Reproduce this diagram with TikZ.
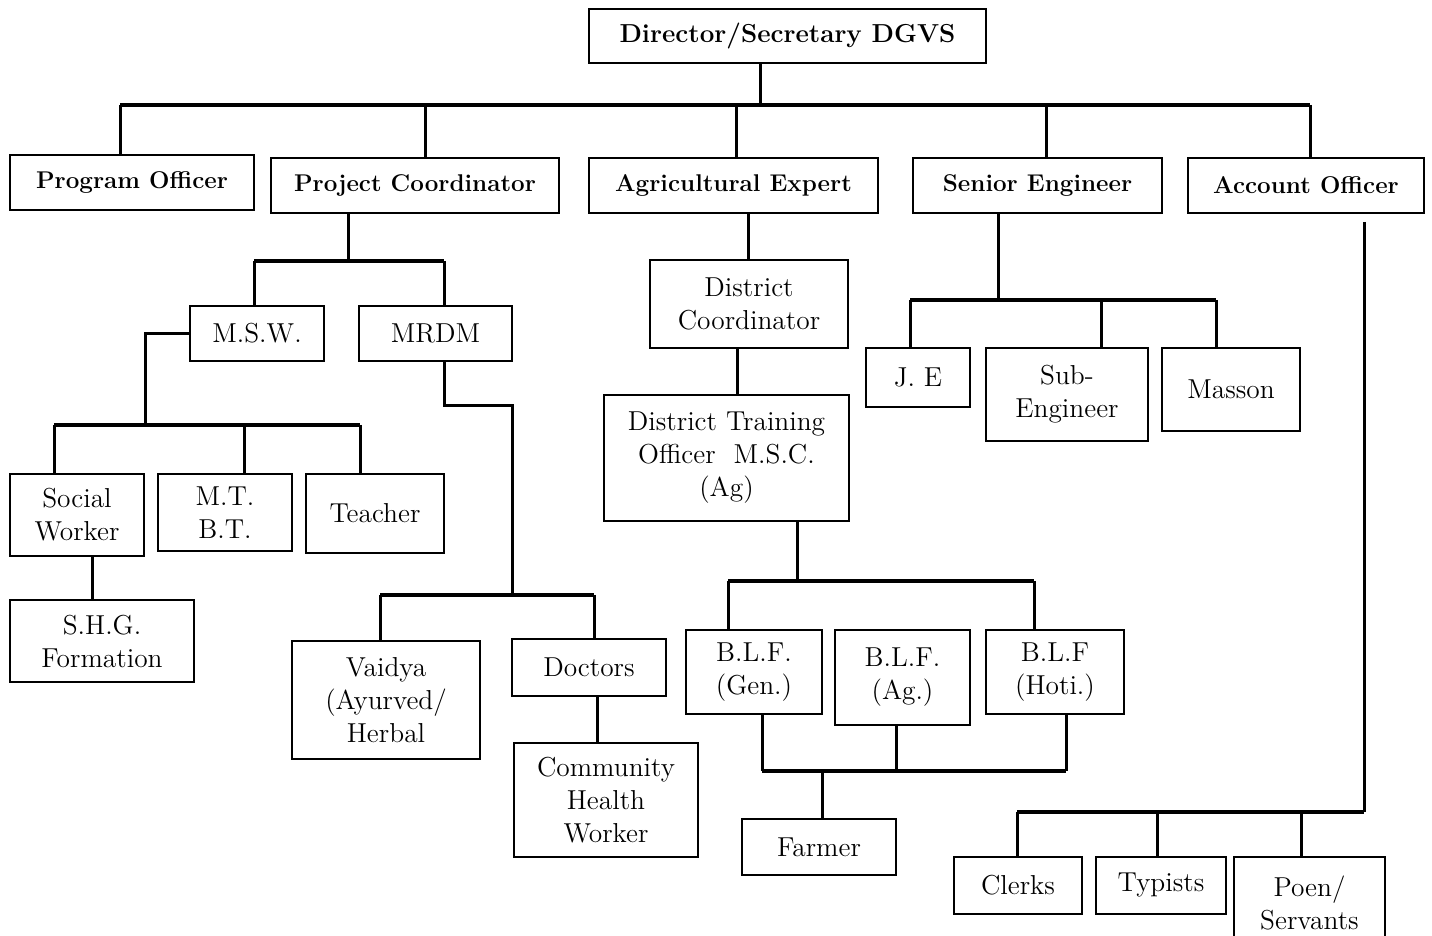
\documentclass[tikz,border=0pt]{standalone}
\usepackage{fontspec}
\setmainfont{Latin Modern Roman}
\newcommand\BOX[7][bx]{\node[#1, minimum width={(#5-#3)*0.5pt}, minimum height={(#6-#4)*0.5pt}] (#2) at ({(#3+#5)/2},{(#4+#6)/2}) {#7};}
\begin{document}
\begin{tikzpicture}[x=0.5pt,y=-0.5pt,
  bx/.style={draw, line width=1pt, align=center, inner sep=0pt, font=\fontsize{13.7}{16.5}\selectfont},
  bbx/.style={bx, font=\fontsize{12.1}{15}\selectfont\bfseries},
  tbx/.style={bx, font=\fontsize{13}{15}\selectfont\bfseries},
  conn/.style={line width=1.5pt},
  bus/.style={line width=2pt, line cap=square}]
\clip (0,0) rectangle (1432,936);
\fill[white] (0,0) rectangle (1432,936);

% boxes
\BOX[tbx]{dir}{589}{9}{986}{63}{Director/Secretary DGVS}
\BOX[bbx]{po}{10}{155}{254}{210}{Program Officer}
\BOX[bbx]{pc}{271}{158}{559}{213}{Project Coordinator}
\BOX[bbx]{ae}{589}{158}{878}{213}{Agricultural Expert}
\BOX[bbx]{se}{913}{158}{1162}{213}{Senior Engineer}
\BOX[bbx]{ao}{1188}{158}{1424}{213}{Account Officer}

\BOX{msw}{190}{306}{324}{361}{M.S.W.}
\BOX{mrdm}{359}{306}{512}{361}{MRDM}
\BOX{dc}{650}{260}{848}{348}{District\\Coordinator}
\BOX{je}{866}{348}{970}{407}{J. E}
\BOX{sub}{986}{348}{1148}{441}{Sub-\\Engineer}
\BOX{mas}{1162}{348}{1300}{431}{Masson}
\BOX{sw}{10}{474}{144}{556}{Social\\Worker}
\BOX{mt}{158}{474}{292}{551}{M.T.\\B.T.}
\BOX{tea}{306}{474}{444}{553}{Teacher}
\BOX{shg}{10}{600}{194}{682}{S.H.G.\\Formation}
\BOX{dto}{604}{395}{849}{521}{District Training\\Officer\ \ M.S.C.\\(Ag)}
\BOX{vai}{292}{641}{480}{759}{Vaidya\\(Ayurved/\\Herbal}
\BOX{doc}{512}{639}{666}{696}{Doctors}
\BOX{chw}{514}{743}{698}{857}{Community\\Health\\Worker}
\BOX{blfg}{686}{630}{822}{714}{B.L.F.\\(Gen.)}
\BOX{blfa}{835}{630}{970}{725}{B.L.F.\\(Ag.)}
\BOX{blfh}{986}{630}{1124}{714}{B.L.F\\(Hoti.)}
\BOX{far}{742}{819}{896}{875}{Farmer}
\BOX{clk}{954}{857}{1082}{914}{Clerks}
\BOX{typ}{1096}{857}{1226}{914}{Typists}
\BOX{poe}{1234}{857}{1385}{950}{Poen/\\Servants}

% top level
\coordinate (t0) at (760,105);
\coordinate (t1) at (120,105);
\coordinate (t2) at (425,105);
\coordinate (t3) at (736,105);
\coordinate (t4) at (1046,105);
\coordinate (t5) at (1310,105);
\draw[conn] (t0 |- dir.south) -- (t0);
\draw[bus] (t1) -- (t5);
\draw[conn] (t1) -- (t1 |- po.north);
\draw[conn] (t2) -- (t2 |- pc.north);
\draw[conn] (t3) -- (t3 |- ae.north);
\draw[conn] (t4) -- (t4 |- se.north);
\draw[conn] (t5) -- (t5 |- ao.north);

% project coordinator
\coordinate (p0) at (348,261);
\coordinate (p1) at (254,261);
\coordinate (p2) at (444,261);
\draw[conn] (p0 |- pc.south) -- (p0);
\draw[bus] (p1) -- (p2);
\draw[conn] (p1) -- (p1 |- msw.north);
\draw[conn] (p2) -- (p2 |- mrdm.north);

% M.S.W.
\coordinate (m0) at (145,425);
\coordinate (m1) at (54,425);
\coordinate (m2) at (244,425);
\coordinate (m3) at (360,425);
\draw[conn] (msw.west) -| (m0);
\draw[bus] (m1) -- (m3);
\draw[conn] (m1) -- (m1 |- sw.north);
\draw[conn] (m2) -- (m2 |- mt.north);
\draw[conn] (m3) -- (m3 |- tea.north);
\coordinate (s0) at (92,580);
\draw[conn] (s0 |- sw.south) -- (s0 |- shg.north);

% MRDM
\coordinate (r0) at (444,406);
\coordinate (r1) at (512,406);
\coordinate (r2) at (512,595);
\coordinate (r3) at (380,595);
\coordinate (r4) at (594,595);
\draw[conn] (r0 |- mrdm.south) -- (r0) -- (r1) -- (r2);
\draw[bus] (r3) -- (r4);
\draw[conn] (r3) -- (r3 |- vai.north);
\draw[conn] (r4) -- (r4 |- doc.north);
\coordinate (d0) at (597,720);
\draw[conn] (d0 |- doc.south) -- (d0 |- chw.north);

% agricultural expert
\coordinate (a0) at (748,240);
\draw[conn] (a0 |- ae.south) -- (a0 |- dc.north);
\coordinate (a1) at (737,370);
\draw[conn] (a1 |- dc.south) -- (a1 |- dto.north);
\coordinate (q0) at (797,581);
\coordinate (q1) at (728,581);
\coordinate (q2) at (1034,581);
\draw[conn] (q0 |- dto.south) -- (q0);
\draw[bus] (q1) -- (q2);
\draw[conn] (q1) -- (q1 |- blfg.north);
\draw[conn] (q2) -- (q2 |- blfh.north);
\coordinate (f0) at (822,771);
\coordinate (f1) at (762,771);
\coordinate (f2) at (896,771);
\coordinate (f3) at (1066,771);
\draw[conn] (f1 |- blfg.south) -- (f1);
\draw[conn] (f2 |- blfa.south) -- (f2);
\draw[conn] (f3 |- blfh.south) -- (f3);
\draw[bus] (f1) -- (f3);
\draw[conn] (f0) -- (f0 |- far.north);

% senior engineer
\coordinate (e0) at (998,300);
\coordinate (e1) at (910,300);
\coordinate (e2) at (1101,300);
\coordinate (e3) at (1216,300);
\draw[conn] (e0 |- se.south) -- (e0);
\draw[bus] (e1) -- (e3);
\draw[conn] (e1) -- (e1 |- je.north);
\draw[conn] (e2) -- (e2 |- sub.north);
\draw[conn] (e3) -- (e3 |- mas.north);

% account officer
\coordinate (g0) at (1364,222);
\coordinate (g1) at (1364,812);
\coordinate (g2) at (1017,812);
\coordinate (g3) at (1157,812);
\coordinate (g4) at (1301,812);
\draw[conn] (g0) -- (g1);
\draw[bus] (g2) -- (g1);
\draw[conn] (g2) -- (g2 |- clk.north);
\draw[conn] (g3) -- (g3 |- typ.north);
\draw[conn] (g4) -- (g4 |- poe.north);
\end{tikzpicture}
\end{document}
